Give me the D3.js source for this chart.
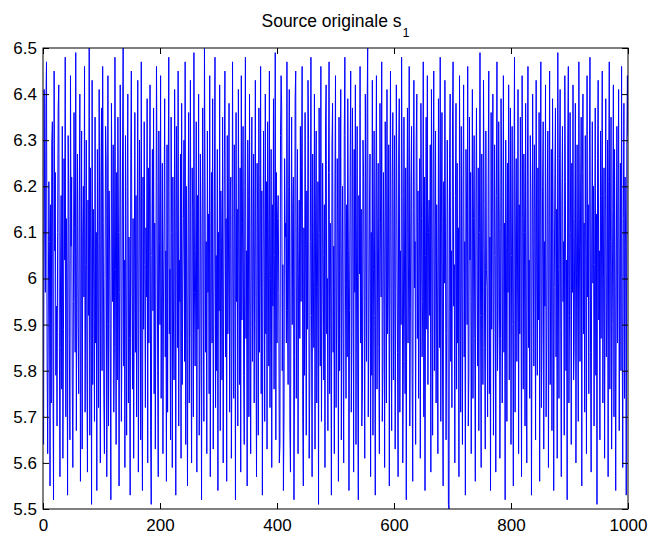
<!DOCTYPE html>
<html>
<head>
<meta charset="utf-8">
<script src="https://cdn.jsdelivr.net/npm/d3@7"></script>
<style>
  html, body { margin: 0; padding: 0; background: #fff; }
  svg { display: block; font-family: "Liberation Sans", Arial, Helvetica, sans-serif; }
</style>
</head>
<body>
<svg id="chart" width="651" height="537"></svg>
<script>
// Source signal s1: 1000 samples, values between 5.5 and 6.5
const samples = [
  5.64,6.41,6.12,5.97,6.38,6.47,5.83,5.62,5.90,6.21,6.08,5.55,6.16,5.73,6.29,6.34,5.81,5.52,6.45,6.06,
  6.23,5.79,5.94,5.68,6.10,6.37,6.42,5.85,5.57,6.01,6.18,5.76,6.33,5.61,5.89,6.26,6.04,6.48,5.70,6.13,
  5.98,5.53,6.31,6.19,5.87,5.65,6.44,6.07,6.22,5.78,5.59,5.95,6.36,6.11,5.84,6.49,5.67,6.02,6.27,5.91,
  5.75,6.14,6.40,5.56,5.88,6.32,5.63,6.09,6.20,5.96,6.46,5.71,6.03,6.30,5.82,5.58,6.17,5.92,6.50,5.66,
  6.24,6.05,5.51,6.43,5.77,6.15,5.99,5.69,6.35,5.86,6.10,5.54,6.28,5.93,5.72,6.41,6.08,5.60,6.21,6.37,
  5.80,6.46,6.12,5.74,5.62,6.00,6.33,6.25,5.57,5.90,6.44,5.68,6.19,6.06,5.83,5.52,6.38,6.14,5.95,6.29,
  5.71,5.85,6.48,6.02,5.64,6.23,5.78,6.35,6.10,5.55,5.97,6.42,6.16,5.69,5.88,6.27,6.50,5.81,6.04,5.59,
  6.31,5.94,5.66,6.20,6.40,5.73,6.09,5.87,5.53,6.26,6.45,6.01,5.76,6.13,5.61,5.99,6.36,5.84,6.18,5.70,
  6.07,6.43,5.58,5.92,6.30,6.15,5.65,6.47,5.79,5.54,6.22,5.89,6.34,6.03,5.72,6.11,5.96,6.39,5.60,6.24,
  5.86,6.17,6.42,5.67,5.51,6.05,6.28,5.93,6.37,5.75,6.12,5.63,5.98,6.46,6.21,5.80,5.57,6.32,6.08,5.90,
  6.44,5.74,6.00,6.25,5.62,5.96,6.14,6.39,5.83,6.06,5.56,6.29,5.71,6.19,6.48,5.88,6.02,5.65,6.35,6.10,
  5.59,6.22,5.91,5.78,6.41,6.09,5.53,6.33,6.16,5.85,6.45,5.68,6.04,5.95,6.27,5.61,6.38,5.77,5.99,6.13,
  6.30,5.82,6.47,5.64,6.20,5.92,5.55,6.11,6.36,5.73,6.01,6.43,5.87,5.60,6.24,6.15,5.70,6.49,5.97,5.81,
  6.06,6.34,5.58,6.18,5.89,6.40,5.66,5.79,6.27,6.03,5.52,6.12,6.37,5.94,5.69,6.50,6.21,5.84,6.08,5.62,
  6.32,5.97,6.14,5.75,6.44,5.57,6.02,6.23,5.86,6.39,5.63,5.90,6.17,6.48,5.72,6.05,5.80,6.28,5.54,6.10,
  5.93,6.42,5.67,6.19,6.07,5.78,6.35,5.60,5.99,6.26,6.45,5.83,6.13,5.56,6.31,5.88,6.04,6.38,5.71,6.16,
  6.22,5.61,5.85,6.47,6.00,5.74,6.29,6.09,5.52,6.36,5.95,6.15,5.68,6.41,6.03,5.77,6.24,5.58,6.44,5.91,
  6.12,6.33,5.79,5.64,6.20,6.48,5.87,6.06,5.55,6.30,6.18,5.70,6.40,5.96,5.62,6.11,6.35,5.82,6.01,6.27,
  5.73,6.08,6.43,5.90,5.57,6.25,6.14,5.66,6.37,5.84,6.02,6.46,5.75,6.19,5.53,5.98,6.32,6.07,5.69,6.40,
  5.88,6.21,5.63,6.34,6.10,5.81,6.45,5.72,6.00,6.28,5.59,6.16,5.94,6.39,5.76,6.05,6.49,5.65,6.23,5.86,
  6.13,6.18,5.97,5.60,5.64,6.31,6.44,6.37,5.80,6.03,5.54,5.71,6.26,6.09,6.12,5.86,6.47,5.93,5.77,6.20,
  6.41,5.68,5.58,6.06,6.35,5.90,6.15,6.22,5.52,5.83,6.39,6.45,5.74,5.99,6.28,5.62,6.01,6.17,5.87,6.33,
  5.95,6.24,6.46,5.70,5.55,6.11,5.79,6.36,6.04,5.66,6.19,5.89,6.43,6.30,5.61,5.76,6.08,6.48,5.92,5.57,
  6.27,6.02,5.85,6.40,5.63,6.14,6.32,5.73,5.98,6.21,5.51,6.37,6.10,5.81,6.46,5.69,5.94,6.25,6.05,5.78,
  6.16,5.59,6.34,6.42,5.88,6.00,5.67,6.23,6.47,5.75,6.12,5.96,5.53,6.29,6.38,5.84,6.07,5.62,6.19,6.44,
  5.72,5.91,6.26,6.09,5.56,6.35,5.80,6.13,6.41,5.65,6.03,6.20,5.87,5.60,6.31,6.48,5.99,5.74,6.16,5.83,
  6.39,6.06,5.54,5.93,6.24,6.45,5.71,5.89,6.37,6.11,5.58,6.28,5.97,6.42,5.64,6.04,6.33,5.78,5.52,6.18,
  6.01,6.46,5.86,6.15,5.68,5.75,6.30,6.22,5.95,5.61,6.40,6.08,5.82,6.36,6.50,5.70,5.90,6.14,6.27,5.57,
  6.10,5.79,6.43,5.66,6.02,6.32,5.92,5.53,6.19,6.44,5.76,6.07,6.25,5.85,5.62,6.38,6.12,5.96,6.47,5.69,
  5.81,6.23,6.05,5.59,6.34,6.16,5.73,6.41,5.88,6.00,6.29,5.55,6.09,6.45,5.94,5.67,6.20,6.36,5.78,6.03,
  6.31,5.63,5.97,6.42,6.14,5.84,5.57,6.27,6.39,5.71,6.06,5.90,6.48,6.18,5.60,5.82,6.35,6.01,5.75,6.24,
  5.52,6.11,6.37,5.86,6.04,6.46,5.68,5.93,6.21,6.33,5.79,5.56,6.15,6.43,5.98,6.08,5.64,6.30,6.40,5.87,
  6.19,5.74,6.02,6.26,5.61,6.38,6.13,5.83,5.95,6.47,5.70,6.22,5.54,6.05,6.35,5.89,6.44,5.77,6.10,6.17,
  5.92,6.29,5.58,6.41,6.07,5.66,6.24,6.45,5.80,6.00,6.32,5.73,6.16,5.96,5.62,6.39,6.04,5.85,6.48,5.69,
  6.12,6.36,5.78,5.55,6.21,5.99,6.43,6.09,5.65,5.88,6.30,6.14,5.51,5.50,6.26,6.40,5.82,6.06,5.72,6.34,
  6.47,5.94,6.03,5.60,6.18,6.38,5.76,6.25,5.86,6.11,5.57,6.44,6.01,5.71,6.33,5.97,5.64,6.20,6.42,5.83,
  6.08,5.53,6.28,6.15,5.90,6.46,5.68,5.79,6.35,6.04,6.23,5.62,5.95,6.41,5.74,6.13,6.31,5.87,5.56,6.19,
  6.37,6.00,5.81,6.24,5.67,6.10,6.49,5.92,5.59,6.27,6.06,5.77,6.43,6.16,5.85,5.63,6.32,6.02,5.98,5.70,
  6.21,6.45,5.75,6.09,5.54,6.36,5.89,6.14,6.40,5.66,5.96,6.29,6.05,5.58,6.18,6.47,5.80,5.93,6.34,6.11,
  5.61,5.87,6.39,6.22,5.73,6.01,6.44,5.84,6.12,5.52,6.30,6.07,5.69,6.25,5.97,6.42,5.78,6.15,6.37,5.64,
  6.05,6.33,5.90,5.55,6.20,6.48,5.71,6.09,6.26,5.82,5.99,6.41,5.62,6.16,5.88,6.35,6.03,5.57,6.44,6.13,
  5.76,6.27,6.10,5.68,6.38,5.93,5.60,6.22,6.46,5.85,6.04,5.74,6.31,6.18,5.53,5.96,6.40,6.07,5.81,6.29,
  6.14,5.65,6.43,6.01,5.79,6.24,5.91,6.36,5.56,6.12,6.47,5.72,5.87,6.20,6.34,5.63,6.08,5.94,6.42,5.70,
  5.86,6.19,6.32,5.59,6.06,6.45,5.77,6.00,6.28,5.67,6.39,6.11,5.54,5.98,6.23,6.37,5.83,6.15,5.61,6.49,
  6.02,5.74,6.26,6.41,5.89,5.57,6.17,6.33,5.95,6.08,5.66,6.44,6.21,5.80,6.04,5.52,6.30,6.46,5.73,5.92,
  6.36,6.10,5.64,6.25,5.97,6.42,5.78,5.85,6.13,6.38,5.60,6.01,6.29,5.93,5.69,6.47,6.07,5.82,6.19,6.35,
  5.55,6.23,6.40,5.88,6.12,5.71,6.31,6.05,5.62,6.44,5.96,6.16,5.75,6.27,6.48,5.84,5.58,6.09,6.34,5.99,
  6.20,5.68,6.03,6.37,5.79,6.14,5.51,6.26,6.43,5.91,6.06,5.65,6.32,5.87,6.18,6.45,5.73,6.00,6.24,5.61,
  6.11,6.39,5.83,5.94,6.30,5.57,6.21,6.47,5.76,6.08,6.35,5.63,5.90,6.15,6.42,5.70,6.28,5.97,5.54,6.04,
  6.33,5.86,6.17,6.41,5.67,6.02,6.25,5.80,6.46,5.92,5.59,6.13,6.38,5.74,6.22,6.07,5.53,6.29,6.44,6.31
];

// Axis tick values
const xTicks = [0, 200, 400, 600, 800, 1000];
const yTicks = [5.5, 5.6, 5.7, 5.8, 5.9, 6, 6.1, 6.2, 6.3, 6.4, 6.5];
const yTickLabels = ["5.5", "5.6", "5.7", "5.8", "5.9", "6", "6.1", "6.2", "6.3", "6.4", "6.5"];

const chartTitle = "Source originale s";
const titleSub = "1";

const svg = d3.select("#chart");
const plot = { left: 43, right: 628, top: 48, bottom: 509 };

const x = d3.scaleLinear().domain([0, 1000]).range([plot.left, plot.right]);
const y = d3.scaleLinear().domain([5.5, 6.5]).range([plot.bottom, plot.top]);

// Clip the signal to the axes box
svg.append("defs").append("clipPath").attr("id", "plotClip")
  .append("rect")
  .attr("x", plot.left).attr("y", plot.top)
  .attr("width", plot.right - plot.left).attr("height", plot.bottom - plot.top);

// Signal trace
const line = d3.line()
  .x((d, i) => x(i + 1))
  .y(d => y(d));

svg.append("path")
  .datum(samples)
  .attr("clip-path", "url(#plotClip)")
  .attr("fill", "none")
  .attr("stroke", "#0000ff")
  .attr("stroke-width", 1)
  .attr("stroke-linejoin", "miter")
  .attr("d", line);

const tickLen = 6;
const fontSize = 17;

function styleAxis(g) {
  g.select(".domain").remove();
  g.selectAll(".tick line").attr("stroke", "#000").attr("stroke-width", 1);
  g.selectAll(".tick text")
    .attr("fill", "#000")
    .style("font-size", fontSize + "px")
    .style("font-family", "'Liberation Sans', Arial, Helvetica, sans-serif");
}

// Bottom axis (labelled), ticks pointing inward
svg.append("g")
  .attr("transform", `translate(0,${plot.bottom})`)
  .call(d3.axisBottom(x).tickValues(xTicks).tickSize(-tickLen).tickPadding(10).tickFormat(d3.format("d")))
  .call(styleAxis);

// Top axis (ticks only)
svg.append("g")
  .attr("transform", `translate(0,${plot.top})`)
  .call(d3.axisTop(x).tickValues(xTicks).tickSize(-tickLen).tickFormat(""))
  .call(styleAxis);

// Left axis (labelled)
svg.append("g")
  .attr("transform", `translate(${plot.left},0)`)
  .call(d3.axisLeft(y).tickValues(yTicks).tickSize(-tickLen).tickPadding(6)
    .tickFormat((d, i) => yTickLabels[i]))
  .call(styleAxis);

// Right axis (ticks only)
svg.append("g")
  .attr("transform", `translate(${plot.right},0)`)
  .call(d3.axisRight(y).tickValues(yTicks).tickSize(-tickLen).tickFormat(""))
  .call(styleAxis);

// Axes box
svg.append("rect")
  .attr("x", plot.left).attr("y", plot.top)
  .attr("width", plot.right - plot.left).attr("height", plot.bottom - plot.top)
  .attr("fill", "none")
  .attr("stroke", "#000")
  .attr("stroke-width", 1);

// Title with subscript
const title = svg.append("text")
  .attr("x", (plot.left + plot.right) / 2)
  .attr("y", 27)
  .attr("text-anchor", "middle")
  .style("font-size", "17.5px")
  .attr("fill", "#000");
title.append("tspan").text(chartTitle);
title.append("tspan")
  .attr("dy", 10)
  .attr("dx", 1)
  .style("font-size", "12.5px")
  .text(titleSub);
</script>
</body>
</html>
